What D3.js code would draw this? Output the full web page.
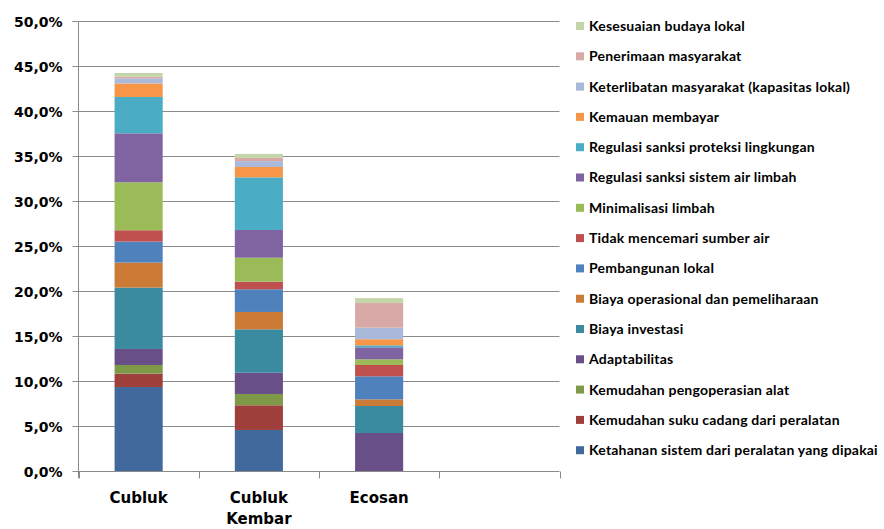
<!DOCTYPE html>
<html>
<head>
<meta charset="utf-8">
<script src="https://cdn.jsdelivr.net/npm/d3@7"></script>
<style>
  html, body { margin: 0; padding: 0; background: #fff; }
  svg { display: block; }
</style>
</head>
<body>
<svg id="chart" width="884" height="529"></svg>
<script>
// ---- data ----
const categories = ["Cubluk", "Cubluk Kembar", "Ecosan", ""];
const seriesNames = [
  "Ketahanan sistem dari peralatan yang dipakai",
  "Kemudahan suku cadang dari peralatan",
  "Kemudahan pengoperasian alat",
  "Adaptabilitas",
  "Biaya investasi",
  "Biaya operasional dan pemeliharaan",
  "Pembangunan lokal",
  "Tidak mencemari sumber air",
  "Minimalisasi limbah",
  "Regulasi sanksi sistem air limbah",
  "Regulasi sanksi proteksi lingkungan",
  "Kemauan membayar",
  "Keterlibatan masyarakat (kapasitas lokal)",
  "Penerimaan masyarakat",
  "Kesesuaian budaya lokal"
];
// values in percent, per category (Cubluk, Cubluk Kembar, Ecosan)
const ketahanan      = [9.33, 4.56, 0.00];
const sukuCadang     = [1.49, 2.74, 0.00];
const pengoperasian  = [0.96, 1.26, 0.00];
const adaptabilitas  = [1.78, 2.36, 4.22];
const biayaInvestasi = [6.82, 4.82, 3.00];
const biayaOperasi   = [2.78, 1.93, 0.74];
const pembangunan    = [2.33, 2.52, 2.56];
const tidakMencemari = [1.26, 0.84, 1.26];
const minimalisasi   = [5.33, 2.67, 0.63];
const regAirLimbah   = [5.44, 3.08, 1.33];
const regProteksi    = [4.04, 5.85, 0.22];
const kemauan        = [1.50, 1.15, 0.68];
const keterlibatan   = [0.56, 0.65, 1.28];
const penerimaan     = [0.20, 0.36, 2.74];
const kesesuaian     = [0.40, 0.44, 0.55];
const seriesValues = [ketahanan, sukuCadang, pengoperasian, adaptabilitas, biayaInvestasi,
  biayaOperasi, pembangunan, tidakMencemari, minimalisasi, regAirLimbah, regProteksi,
  kemauan, keterlibatan, penerimaan, kesesuaian];
const colors = ["#41699C", "#9E3F3C", "#7E9A48", "#684F88", "#3A8AA0", "#CB7B36",
  "#4F81BD", "#C0504D", "#9BBB59", "#8064A2", "#4BACC6", "#F79646",
  "#A9B9D9", "#D9A9A8", "#C4D5A9"];
const yTicks = [0, 5, 10, 15, 20, 25, 30, 35, 40, 45, 50];

// ---- layout ----
const svg = d3.select("#chart");
const plot = { left: 78.5, right: 559.5, top: 21, bottom: 471 };

const x = d3.scaleBand().domain(categories).range([plot.left, plot.right])
  .paddingInner(0.6).paddingOuter(0.3);
const y = d3.scaleLinear().domain([0, 50]).range([plot.bottom, plot.top]);

// gridlines
svg.append("g").selectAll("line").data(yTicks.filter(d => d > 0)).join("line")
  .attr("x1", plot.left).attr("x2", plot.right)
  .attr("y1", d => Math.round(y(d)) + 0.5).attr("y2", d => Math.round(y(d)) + 0.5)
  .attr("stroke", "#8a8a8a").attr("stroke-width", 1);

// stacked data
const rows = categories.slice(0, 3).map((c, i) => {
  const r = { cat: c };
  seriesNames.forEach((s, k) => r[s] = seriesValues[k][i]);
  return r;
});
const stacked = d3.stack().keys(seriesNames)(rows);

svg.append("g").selectAll("g").data(stacked).join("g")
  .attr("fill", (d, i) => colors[i])
  .selectAll("rect").data(d => d).join("rect")
  .attr("x", d => x(d.data.cat))
  .attr("width", x.bandwidth())
  .attr("y", d => y(d[1]))
  .attr("height", d => Math.max(0, y(d[0]) - y(d[1])));

// y axis
const yAxis = d3.axisLeft(y).tickValues(yTicks).tickSize(6).tickPadding(10)
  .tickFormat(d => d.toFixed(1).replace(".", ",") + "%");
const gy = svg.append("g").attr("transform", `translate(${plot.left},0)`).call(yAxis);
gy.select(".domain").attr("stroke", "#8a8a8a").attr("d", `M-6,${plot.top + 0.5}H0V${plot.bottom + 7}`);
gy.selectAll(".tick line").attr("stroke", "#8a8a8a");
gy.selectAll(".tick").attr("transform", d => `translate(0,${Math.round(y(d)) + 0.5})`);
gy.selectAll("text").attr("font-family", "DejaVu Sans").attr("font-weight", "bold")
  .attr("font-size", 14).attr("fill", "#000").attr("dy", "0.36em");

// x axis
const gx = svg.append("g").attr("transform", `translate(0,${plot.bottom + 0.5})`);
gx.append("line").attr("x1", plot.left).attr("x2", plot.right).attr("stroke", "#8a8a8a");
const step = x.step();
const bounds = d3.range(categories.length + 1).map(i => plot.left + i * step);
gx.selectAll("line.tk").data(bounds).join("line").attr("class", "tk")
  .attr("x1", d => Math.round(d) + 0.5).attr("x2", d => Math.round(d) + 0.5)
  .attr("y1", 0).attr("y2", 7).attr("stroke", "#8a8a8a");
const labelLines = { "Cubluk": ["Cubluk"], "Cubluk Kembar": ["Cubluk", "Kembar"], "Ecosan": ["Ecosan"], "": [] };
categories.forEach(c => {
  const t = svg.append("text")
    .attr("x", x(c) + x.bandwidth() / 2).attr("y", 503)
    .attr("text-anchor", "middle")
    .attr("font-family", "DejaVu Sans").attr("font-weight", "bold")
    .attr("font-size", 15).attr("fill", "#000");
  labelLines[c].forEach((ln, i) => t.append("tspan")
    .attr("x", x(c) + x.bandwidth() / 2).attr("dy", i === 0 ? 0 : 21).text(ln));
});

// legend (reverse order, top = last series)
const legendOrder = seriesNames.map((s, i) => i).reverse();
const lg = svg.append("g");
legendOrder.forEach((k, j) => {
  const cy = 26 + j * 30.3;
  lg.append("rect").attr("x", 576).attr("y", cy - 4).attr("width", 8).attr("height", 8)
    .attr("fill", colors[k]);
  lg.append("text").attr("x", 589).attr("y", cy).attr("dy", "0.35em")
    .attr("font-family", "Lato").attr("font-weight", "bold").attr("font-size", 14)
    .attr("letter-spacing", "0.2px")
    .attr("fill", "#000").text(seriesNames[k]);
});
</script>
</body>
</html>
